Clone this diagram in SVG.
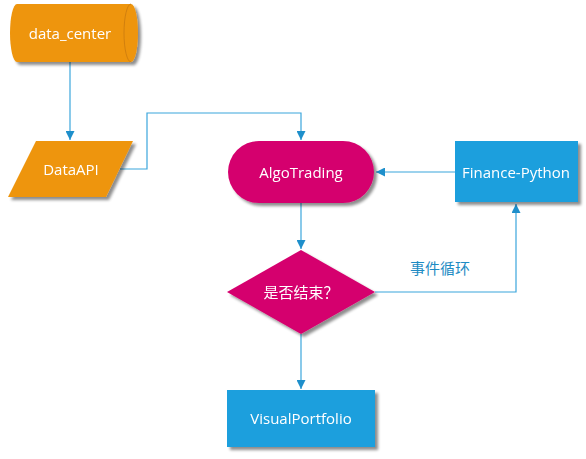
<svg xmlns="http://www.w3.org/2000/svg" width="586" height="459" viewBox="0 0 586 459">
<defs>
<filter id="sh" x="-20%" y="-20%" width="140%" height="150%">
<feGaussianBlur in="SourceAlpha" stdDeviation="1.5"/>
<feOffset dx="3" dy="3" result="b"/>
<feComponentTransfer><feFuncA type="linear" slope="0.45"/></feComponentTransfer>
<feMerge><feMergeNode/><feMergeNode in="SourceGraphic"/></feMerge>
</filter>
<marker id="ar" viewBox="0 0 10 10" refX="10" refY="5" markerWidth="9" markerHeight="9" markerUnits="userSpaceOnUse" orient="auto">
<path d="M0,0 L10,5 L0,10 Z" fill="#1E8FCB"/>
</marker>
</defs>
<style>
.t{font-family:"Open Sans","Noto Sans CJK SC",sans-serif;font-size:15px;fill:#fff;text-anchor:middle;dominant-baseline:central}
.c{fill:none;stroke:#3BA6DC;stroke-width:1.2}
.or{fill:#EE950F}
.mg{fill:#D5006E}
.bl{fill:#1E9FDD}
.lb{font-family:"Open Sans","Noto Sans CJK SC",sans-serif;font-size:15px;fill:#1E8BC3;text-anchor:middle;dominant-baseline:central}
</style>
<g id="connectors">
<path class="c" d="M70,62 V140" marker-end="url(#ar)"/>
<path class="c" d="M120,169 H147 V113 H301 V140" marker-end="url(#ar)"/>
<path class="c" d="M455,172 H376" marker-end="url(#ar)"/>
<path class="c" d="M301,203 V249" marker-end="url(#ar)"/>
<path class="c" d="M375,292 H516 V204" marker-end="url(#ar)"/>
<path class="c" d="M301,334 V389" marker-end="url(#ar)"/>
<text class="lb" x="440" y="268">事件循环</text>
</g>
<g id="data_center" filter="url(#sh)">
<path class="or" d="M17,4 H131 A7,29 0 0 1 131,62 H17 A7,29 0 0 1 17,4 Z"/>
<path d="M131,4 A7,29 0 0 0 131,62" fill="none" stroke="#C97A05" stroke-width="0.8"/>
<text class="t" x="70" y="33">data_center</text>
</g>
<g id="DataAPI" filter="url(#sh)">
<path class="or" d="M36,141 H133 L106,197 H8 Z"/>
<text class="t" x="71" y="169">DataAPI</text>
</g>
<g id="AlgoTrading" filter="url(#sh)">
<rect class="mg" x="228" y="141" width="146" height="62" rx="31"/>
<text class="t" x="301" y="172">AlgoTrading</text>
</g>
<g id="Finance-Python" filter="url(#sh)">
<rect class="bl" x="455" y="141" width="123" height="61"/>
<text class="t" x="516" y="172">Finance-Python</text>
</g>
<g id="end" filter="url(#sh)">
<path class="mg" d="M301,250 L375,292 L301,334 L227,292 Z"/>
<text class="t" x="301" y="292">是否结束？</text>
</g>
<g id="VisualPortfolio" filter="url(#sh)">
<rect class="bl" x="227" y="390" width="148" height="57"/>
<text class="t" x="301" y="418">VisualPortfolio</text>
</g>
</svg>
